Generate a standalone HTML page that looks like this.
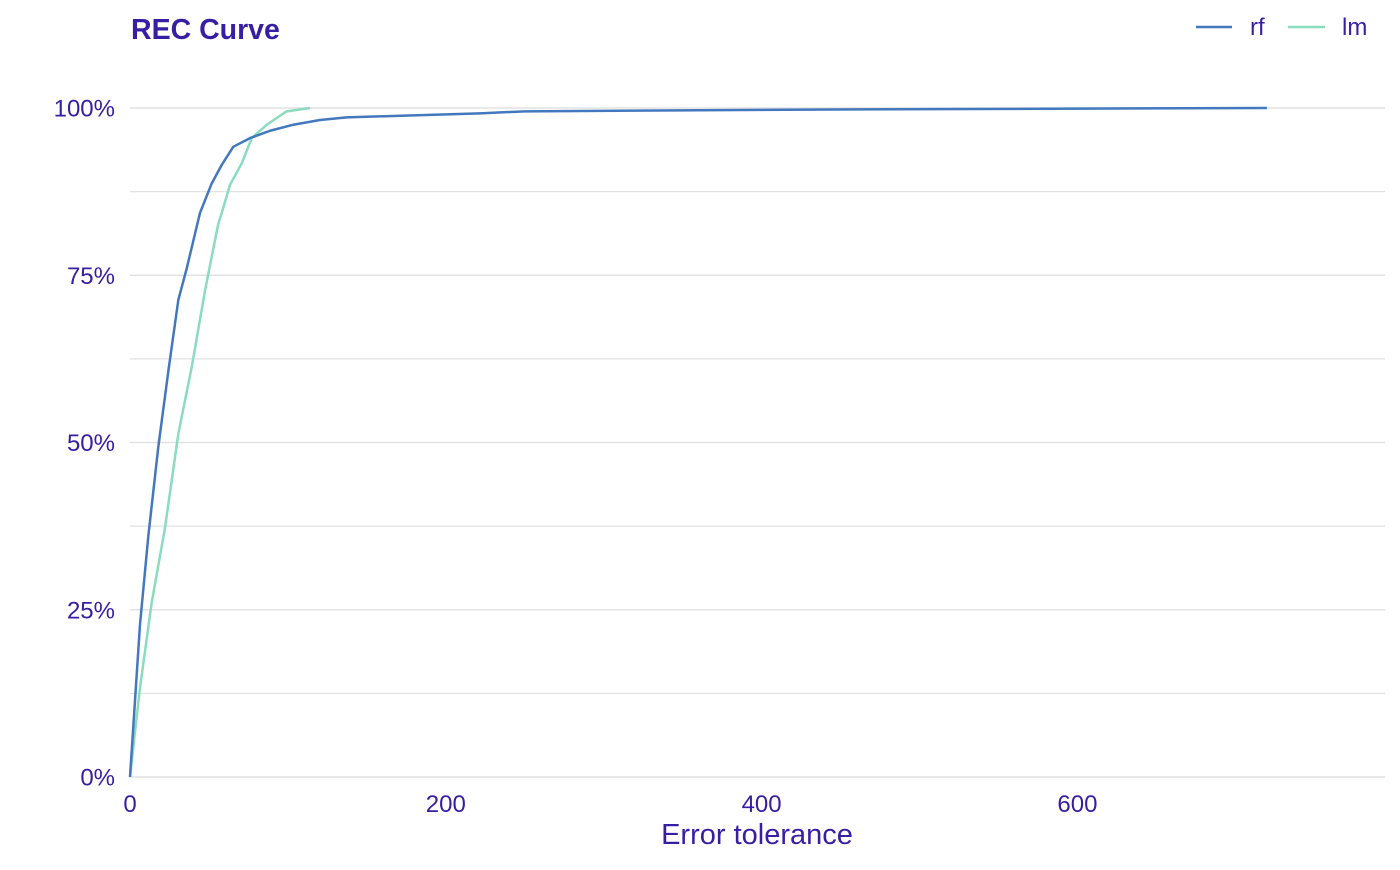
<!DOCTYPE html>
<html><head><meta charset="utf-8"><style>
body{margin:0;background:#fff;}
svg text{font-family:"Liberation Sans",sans-serif;fill:#371ea3;}
</style></head><body>
<svg id="chart" width="1400" height="865">
<text x="131" y="39" font-size="28.5" font-weight="bold">REC Curve</text>
<g>
<line x1="1196" y1="27" x2="1232" y2="27" stroke="#4378bf" stroke-width="2.5"/>
<text x="1250" y="35" font-size="24">rf</text>
<line x1="1288" y1="27" x2="1325" y2="27" stroke="#8bdcbe" stroke-width="2.5"/>
<text x="1342" y="35" font-size="24">lm</text>
</g>
<g id="grid"></g><g id="axes"></g><g id="series"></g>
<text x="757" y="844" font-size="29" text-anchor="middle">Error tolerance</text>
</svg>
<script>
const xTicks=[0,200,400,600];
const yTicks=[0,25,50,75,100];
const rfX=[0,6.3,11.6,17.9,24.3,30.6,35.9,44.3,51.7,58.1,65.4,76,88.7,103.4,120.3,137.2,179.4,221.7,250,460,720];
const rfY=[0,22.7,36,49.3,60.7,71.3,76,84.3,88.7,91.5,94.2,95.5,96.6,97.5,98.2,98.6,98.9,99.2,99.5,99.8,100];
const lmX=[0,6.3,13.7,22.2,30.6,39.1,47.5,55.9,58.1,63.3,70.7,77.1,86.6,99.2,114];
const lmY=[0,13.3,26,37.3,51.3,61.3,72.7,82.7,84.3,88.5,91.7,95.5,97.5,99.5,100];
const NS="http://www.w3.org/2000/svg";
const sx=v=>130+v*1.579;
const sy=v=>777-v*6.69;
const grid=document.getElementById('grid'),axes=document.getElementById('axes'),series=document.getElementById('series');
for(let p=0;p<=100;p+=12.5){
  const l=document.createElementNS(NS,'line');
  l.setAttribute('x1',130);l.setAttribute('x2',1385);l.setAttribute('y1',sy(p));l.setAttribute('y2',sy(p));
  l.setAttribute('stroke','#e2e2e2');l.setAttribute('stroke-width',p%25===0?1.6:1.2);
  
  
  grid.appendChild(l);
}
yTicks.forEach(t=>{
  const e=document.createElementNS(NS,'text');
  e.setAttribute('x',115);e.setAttribute('y',sy(t)+8.5);e.setAttribute('text-anchor','end');e.setAttribute('font-size','24');
  e.textContent=t+'%';
  
  
  axes.appendChild(e);
});
xTicks.forEach(t=>{
  const e=document.createElementNS(NS,'text');
  e.setAttribute('x',sx(t));e.setAttribute('y',812);e.setAttribute('text-anchor','middle');e.setAttribute('font-size','24');
  e.textContent=t;
  
  
  axes.appendChild(e);
});
function draw(X,Y,c,name){
  const p=document.createElementNS(NS,'polyline');
  p.setAttribute('points',X.map((x,i)=>sx(x)+','+sy(Y[i])).join(' '));
  p.setAttribute('fill','none');p.setAttribute('stroke',c);p.setAttribute('stroke-width','2.5');p.setAttribute('stroke-linejoin','round');
  
  
  series.appendChild(p);
}
draw(lmX,lmY,'#8bdcbe','lm-line');
draw(rfX,rfY,'#4378bf','rf-line');
</script>
</body></html>
